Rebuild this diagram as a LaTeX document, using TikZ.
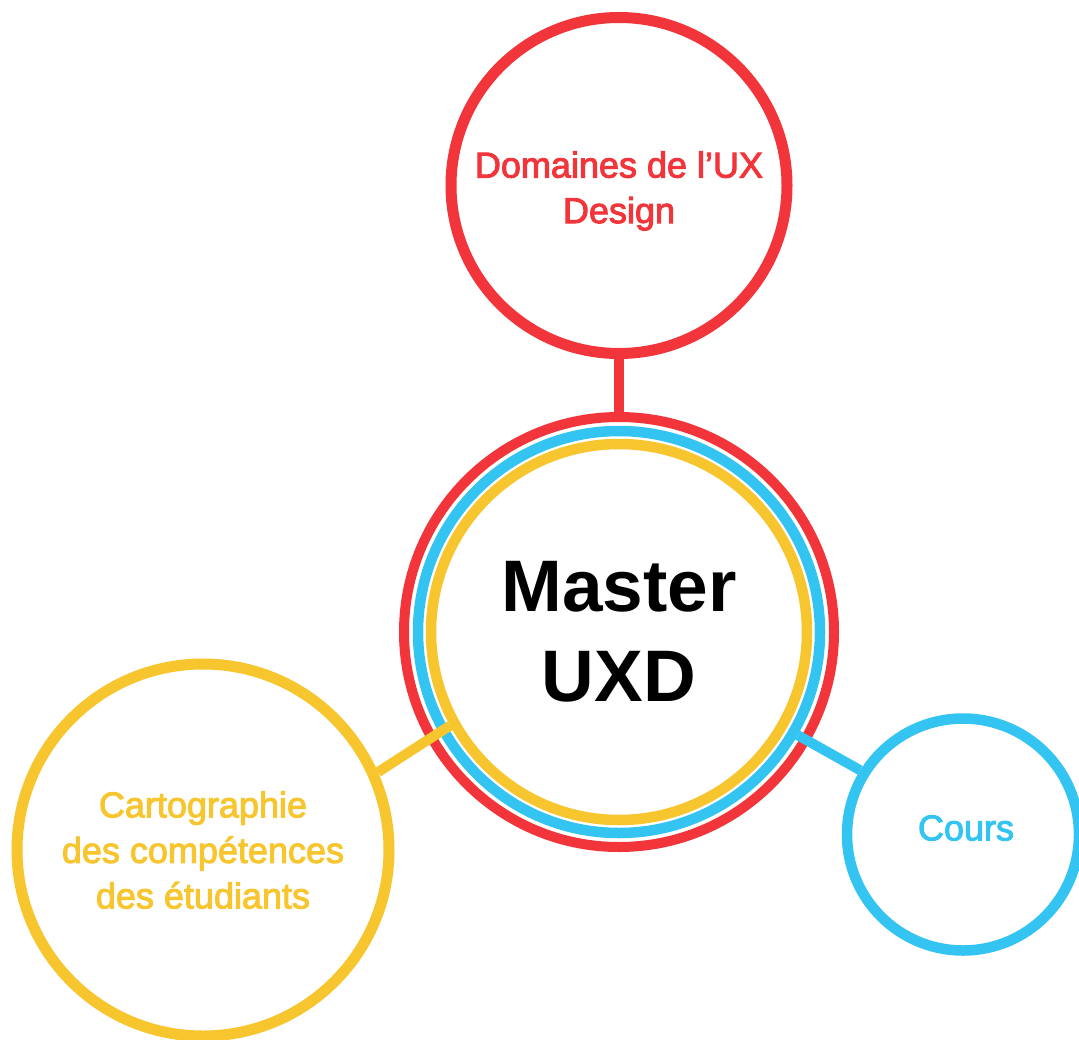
\documentclass[tikz,border=0pt]{standalone}
\usepackage{fontspec}
\setmainfont{Liberation Sans}
\newfontfamily\medfont{Liberation Sans}[FakeBold=2.6]
\definecolor{uxred}{HTML}{F1353B}
\definecolor{uxblue}{HTML}{33C4F2}
\definecolor{uxyellow}{HTML}{F7C52E}
\begin{document}
\begin{tikzpicture}[x=1pt,y=-1pt,
  ring/.style={circle,inner sep=0pt,align=center},
  label36/.style={font=\medfont\fontsize{36}{45.5}\selectfont}
]
\useasboundingbox[fill=white] (0,0) rectangle (1079,1039);
% central rings
\node[ring,draw=uxred,line width=10pt,minimum size=430pt] (cred) at (619,632) {};
\node[ring,draw=uxblue,line width=10.5pt,minimum size=402pt] (cblue) at (619,632) {};
\node[ring,draw=uxyellow,line width=10.5pt,minimum size=376pt,
      font=\fontsize{73}{90}\selectfont\bfseries] (cyel) at (619,632) {Master\\UXD};
% satellites
\node[ring,draw=uxred,line width=11pt,minimum size=336pt] (dom) at (619,185.5) {};
\node[text=uxred,label36,align=center] (domtext) at (619,191) {Domaines de l’UX\\Design};
\node[ring,draw=uxyellow,line width=11pt,minimum size=372pt,text=uxyellow,label36] (carto) at (203,850) {Cartographie\\des compétences\\des étudiants};
\node[ring,draw=uxblue,line width=10.5pt,minimum size=232pt] (cours) at (963,834.5) {};
\node[text=uxblue,label36] (courstext) at (966,828) {Cours};
% connectors
\draw[uxred,line width=10pt] (dom.south) -- (cred.north);
\draw[uxyellow,line width=10pt] (carto.24) -- (cyel.209);
\draw[uxblue,line width=10pt] (cblue.-30) -- (cours.148);
\end{tikzpicture}
\end{document}
